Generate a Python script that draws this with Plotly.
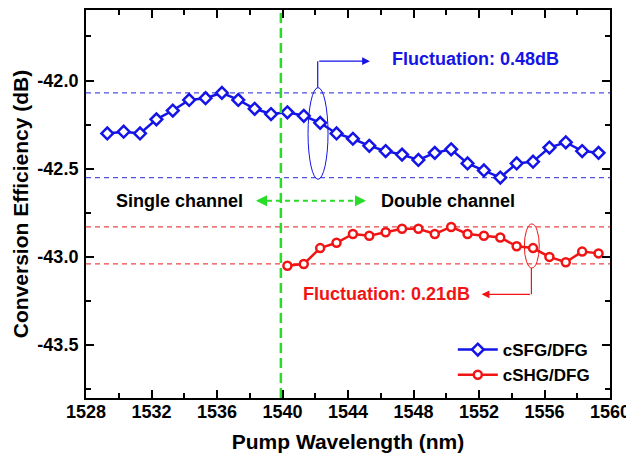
import plotly.graph_objects as go

# ---- data ----
sfg_wavelength = [1529.3, 1530.3, 1531.3, 1532.3, 1533.3, 1534.3, 1535.3, 1536.3,
                  1537.3, 1538.3, 1539.3, 1540.3, 1541.3, 1542.3, 1543.3, 1544.3,
                  1545.3, 1546.3, 1547.3, 1548.3, 1549.3, 1550.3, 1551.3, 1552.3,
                  1553.3, 1554.3, 1555.3, 1556.3, 1557.3, 1558.3, 1559.3]
sfg_efficiency = [-42.30, -42.29, -42.30, -42.22, -42.17, -42.11, -42.10, -42.07,
                  -42.11, -42.16, -42.19, -42.18, -42.20, -42.24, -42.30, -42.33,
                  -42.37, -42.40, -42.42, -42.45, -42.41, -42.39, -42.47, -42.51,
                  -42.55, -42.47, -42.46, -42.38, -42.35, -42.40, -42.41]

shg_wavelength = [1540.3, 1541.3, 1542.3, 1543.3, 1544.3, 1545.3, 1546.3, 1547.3,
                  1548.3, 1549.3, 1550.3, 1551.3, 1552.3, 1553.3, 1554.3, 1555.3,
                  1556.3, 1557.3, 1558.3, 1559.3]
shg_efficiency = [-43.05, -43.04, -42.95, -42.92, -42.87, -42.88, -42.86, -42.84,
                  -42.84, -42.87, -42.83, -42.87, -42.88, -42.89, -42.94, -42.95,
                  -43.00, -43.03, -42.97, -42.98]

sfg_levels = [-42.07, -42.55]
shg_levels = [-42.83, -43.04]
channel_boundary = 1539.9

x_ticks = [1528, 1532, 1536, 1540, 1544, 1548, 1552, 1556, 1560]
y_ticks = [-42.0, -42.5, -43.0, -43.5]

BLUE = "rgb(20,20,230)"
BLUE_L = "rgb(80,80,225)"
RED = "rgb(240,20,20)"
RED_L = "rgb(235,70,70)"
GREEN = "rgb(40,220,40)"
FONT = "Liberation Sans, Arial, sans-serif"

fig = go.Figure()
fig.add_trace(go.Scatter(
    x=sfg_wavelength, y=sfg_efficiency, mode="lines+markers", name="cSFG/DFG",
    line=dict(color=BLUE, width=2.5),
    marker=dict(symbol="diamond", size=9, color="white", line=dict(color=BLUE, width=2.5))))
fig.add_trace(go.Scatter(
    x=shg_wavelength, y=shg_efficiency, mode="lines+markers", name="cSHG/DFG",
    line=dict(color=RED, width=2.5),
    marker=dict(symbol="circle", size=8, color="white", line=dict(color=RED, width=2.5))))

shapes = []
for lv in sfg_levels:
    shapes.append(dict(type="line", xref="x domain", yref="y", x0=0, x1=1, y0=lv, y1=lv,
                       line=dict(color=BLUE_L, width=1.2, dash="5px,4px"), layer="below"))
for lv in shg_levels:
    shapes.append(dict(type="line", xref="x domain", yref="y", x0=0, x1=1, y0=lv, y1=lv,
                       line=dict(color=RED_L, width=1.2, dash="5px,4px"), layer="below"))
# channel boundary
shapes.append(dict(type="line", xref="x", yref="y domain", x0=channel_boundary, x1=channel_boundary,
                   y0=0, y1=1, line=dict(color=GREEN, width=2.5, dash="10px,5px")))
# green double arrow line
shapes.append(dict(type="line", xref="x", yref="y", x0=1538.5, x1=1544.9, y0=-42.682, y1=-42.682,
                   line=dict(color=GREEN, width=2, dash="5px,4px")))
# ellipses
shapes.append(dict(type="circle", xref="x", yref="y", x0=1541.56, x1=1542.78, y0=-42.56, y1=-42.04,
                   line=dict(color=BLUE, width=1)))
shapes.append(dict(type="circle", xref="x", yref="y", x0=1554.77, x1=1555.68, y0=-43.063, y1=-42.813,
                   line=dict(color=RED, width=1)))
# connectors (vertical parts)
shapes.append(dict(type="line", xref="x", yref="y", x0=1542.15, x1=1542.15, y0=-42.04, y1=-41.89,
                   line=dict(color=BLUE, width=1.2)))
shapes.append(dict(type="line", xref="x", yref="y", x0=1555.2, x1=1555.2, y0=-43.063, y1=-43.212,
                   line=dict(color=RED, width=1.2)))

ann = []
# horizontal connector arrows
ann.append(dict(x=1545.34, y=-41.89, ax=1542.15, ay=-41.89, axref="x", ayref="y", xref="x", yref="y",
                text="", showarrow=True, arrowhead=2, arrowsize=1.3, arrowwidth=1.2, arrowcolor=BLUE))
ann.append(dict(x=1552.16, y=-43.212, ax=1555.2, ay=-43.212, axref="x", ayref="y", xref="x", yref="y",
                text="", showarrow=True, arrowhead=2, arrowsize=1.3, arrowwidth=1.2, arrowcolor=RED))
# green arrow heads
ann.append(dict(x=1545.1, y=-42.682, ax=1544.5, ay=-42.682, axref="x", ayref="y", xref="x", yref="y",
                text="", showarrow=True, arrowhead=2, arrowsize=1.1, arrowwidth=2, arrowcolor=GREEN))
ann.append(dict(x=1538.38, y=-42.682, ax=1539.0, ay=-42.682, axref="x", ayref="y", xref="x", yref="y",
                text="", showarrow=True, arrowhead=2, arrowsize=1.1, arrowwidth=2, arrowcolor=GREEN))
# texts
ann.append(dict(x=1546.57, y=-41.875, xref="x", yref="y", xanchor="left", yanchor="middle",
                text="Fluctuation: 0.48dB", showarrow=False,
                font=dict(family=FONT, size=18, color=BLUE, weight="bold")))
ann.append(dict(x=1551.6, y=-43.212, xref="x", yref="y", xanchor="right", yanchor="middle",
                text="Fluctuation: 0.21dB", showarrow=False,
                font=dict(family=FONT, size=18, color=RED, weight="bold")))
ann.append(dict(x=1537.7, y=-42.682, xref="x", yref="y", xanchor="right", yanchor="middle",
                text="Single channel", showarrow=False,
                font=dict(family=FONT, size=18, color="black", weight="bold")))
ann.append(dict(x=1545.9, y=-42.682, xref="x", yref="y", xanchor="left", yanchor="middle",
                text="Double channel", showarrow=False,
                font=dict(family=FONT, size=18, color="black", weight="bold")))

axis_common = dict(showgrid=False, zeroline=False, showline=True, linecolor="black", linewidth=2,
                   ticks="inside", ticklen=8, tickwidth=2, tickcolor="black",
                   tickfont=dict(family=FONT, size=18, color="black", weight="bold"))

# the page body adds an 8 px offset; size the figure to fit the 634x456 window
fig.update_layout(
    width=626, height=448,
    margin=dict(l=78, r=24, t=0, b=58),
    paper_bgcolor="white", plot_bgcolor="white",
    shapes=shapes, annotations=ann,
    showlegend=True,
    legend=dict(x=0.70, y=0.17, xanchor="left", yanchor="top", bgcolor="rgba(0,0,0,0)",
                font=dict(family=FONT, size=17, color="black", weight="bold"),
                tracegroupgap=0, itemwidth=40),
    xaxis=dict(range=[1528, 1560], tickvals=x_ticks, ticktext=[str(v) for v in x_ticks],
               mirror="ticks", ticklabelstandoff=-4,
               minor=dict(dtick=2, tick0=1528, ticks="inside", ticklen=5, tickwidth=2, tickcolor="black"),
               title=dict(text="Pump Wavelength (nm)", standoff=14,
                          font=dict(family=FONT, size=21, color="black", weight="bold")),
               **axis_common),
    yaxis=dict(range=[-43.8, -41.6], tickvals=y_ticks, ticktext=[f"{v:.1f}" for v in y_ticks],
               mirror="ticks", ticklabelstandoff=2,
               minor=dict(dtick=0.25, tick0=-42.0, ticks="inside", ticklen=5, tickwidth=2, tickcolor="black"),
               title=dict(text="Conversion Efficiency (dB)", standoff=3,
                          font=dict(family=FONT, size=21, color="black", weight="bold")),
               **axis_common),
)

fig.write_html("out.html")
